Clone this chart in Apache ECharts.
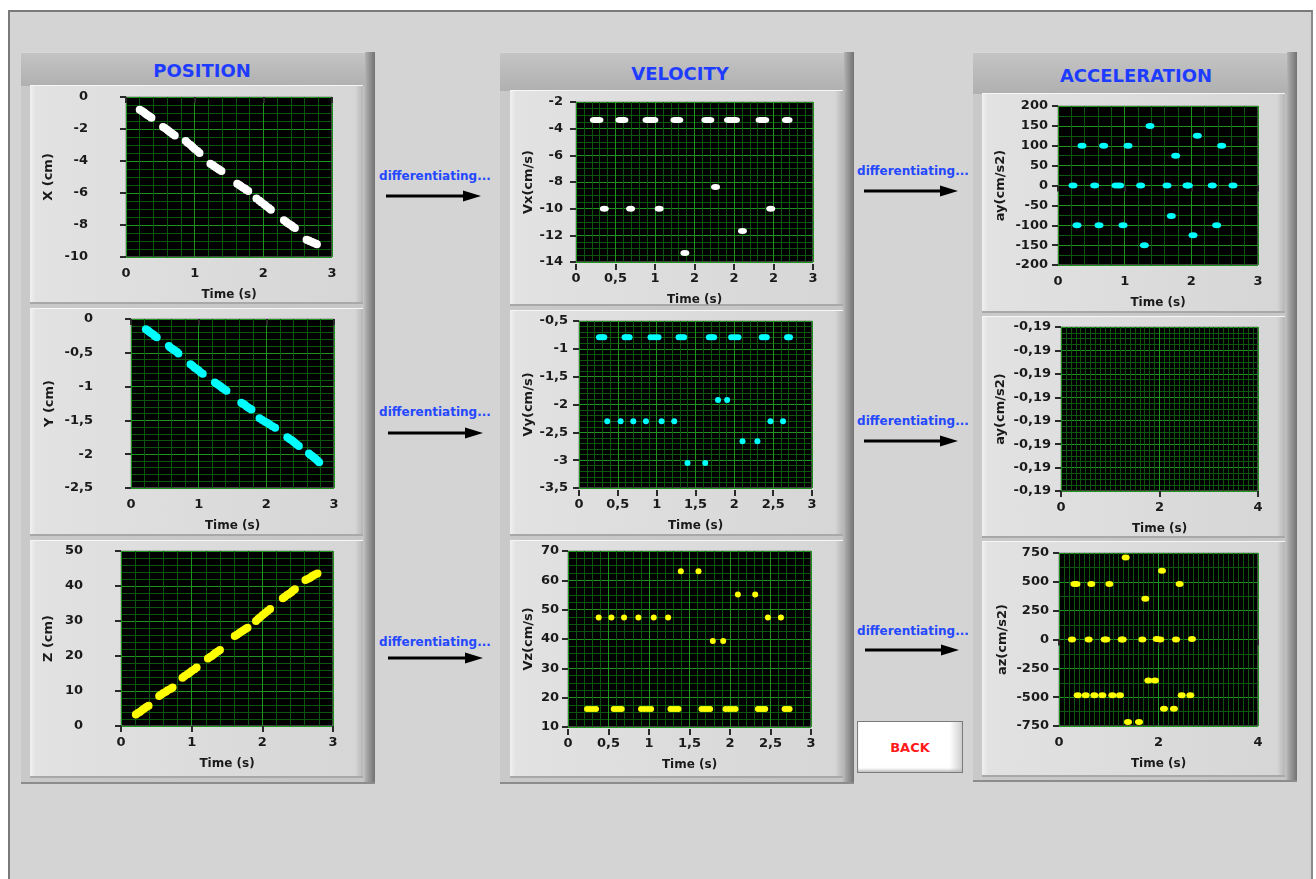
<!DOCTYPE html>
<html><head><meta charset="utf-8">
<script src="https://cdn.jsdelivr.net/npm/echarts@6/dist/echarts.min.js"></script>
<style>
html,body{margin:0;padding:0;background:#fff;width:1316px;height:879px;overflow:hidden;font-family:"DejaVu Sans",Verdana,sans-serif;}
#panel{position:absolute;left:8px;top:10px;width:1301px;height:880px;background:#d4d4d4;border-left:2px solid #7a7a7a;border-top:2px solid #7a7a7a;border-right:2px solid #8a8a8a;}
.group{position:absolute;background:linear-gradient(to right,#c9c9c9 0,#c6c6c6 calc(100% - 12px),#a4a4a4 calc(100% - 8px),#727272 100%);border-bottom:2px solid #8c8c8c;}
.hdr{position:absolute;left:0;top:0;right:10px;background:linear-gradient(#c4c4c4,#b0b0b0);border-top:1px solid #d8d8d8;}
.ttl{position:absolute;transform:translate(-50%,-50%);color:#1e3cff;font-weight:bold;font-size:18px;white-space:nowrap;}
.card{position:absolute;background:linear-gradient(to right,#f0f0f0 0,#e2e2e2 6px,#dcdcdc 50%,#d6d6d6 calc(100% - 8px),#b6b6b6 100%);border-top:1px solid #f6f6f6;border-bottom:2px solid #a8a8a8;box-sizing:border-box;}
.diff{position:absolute;transform:translate(-50%,-50%);color:#2448ff;font-weight:bold;font-size:12px;white-space:nowrap;}
#back{position:absolute;left:857px;top:721px;width:106px;height:52px;box-sizing:border-box;border:1px solid #7c7c7c;background:linear-gradient(to right,#ffffff 0,#ffffff 88%,#d0d0d0 100%);box-shadow:inset 0 -3px 3px -1px #bdbdbd;}
#back span{position:absolute;left:50%;top:50%;transform:translate(-50%,-50%);color:#ff1a1a;font-weight:bold;font-size:13px;}
#arrows{position:absolute;left:0;top:0;}
#chart{position:absolute;left:0;top:0;width:1316px;height:879px;z-index:5;}
</style></head>
<body>
<div id="panel"></div>

<div class="group" style="left:21px;top:52px;width:354px;height:730px">
  <div class="hdr" style="height:33px"></div>
  <div class="ttl" style="left:181px;top:18px">POSITION</div>
  <div class="card" style="left:9px;top:33px;width:333px;height:219px"></div>
  <div class="card" style="left:9px;top:256px;width:333px;height:228px"></div>
  <div class="card" style="left:9px;top:488px;width:333px;height:238px"></div>
</div>
<div class="group" style="left:500px;top:52px;width:354px;height:730px">
  <div class="hdr" style="height:38px"></div>
  <div class="ttl" style="left:180px;top:21px">VELOCITY</div>
  <div class="card" style="left:10px;top:38px;width:333px;height:216px"></div>
  <div class="card" style="left:10px;top:258px;width:333px;height:226px"></div>
  <div class="card" style="left:10px;top:488px;width:333px;height:238px"></div>
</div>
<div class="group" style="left:973px;top:52px;width:324px;height:728px">
  <div class="hdr" style="height:41px"></div>
  <div class="ttl" style="left:163px;top:23px">ACCELERATION</div>
  <div class="card" style="left:9px;top:41px;width:303px;height:220px"></div>
  <div class="card" style="left:9px;top:264px;width:303px;height:222px"></div>
  <div class="card" style="left:9px;top:489px;width:303px;height:236px"></div>
</div>

<div class="diff" style="left:435px;top:176px">differentiating...</div>
<div class="diff" style="left:435px;top:412px">differentiating...</div>
<div class="diff" style="left:435px;top:642px">differentiating...</div>
<div class="diff" style="left:913px;top:171px">differentiating...</div>
<div class="diff" style="left:913px;top:421px">differentiating...</div>
<div class="diff" style="left:913px;top:631px">differentiating...</div>

<svg id="arrows" width="1316" height="879">
  <g stroke="#000" stroke-width="3">
    <line x1="386" y1="196" x2="466" y2="196"/>
    <line x1="388" y1="433" x2="468" y2="433"/>
    <line x1="388" y1="658" x2="468" y2="658"/>
    <line x1="864" y1="191" x2="943" y2="191"/>
    <line x1="864" y1="441" x2="943" y2="441"/>
    <line x1="865" y1="650" x2="944" y2="650"/>
  </g>
  <g fill="#000">
    <polygon points="463,190.5 481,196 463,201.5"/>
    <polygon points="465,427.5 483,433 465,438.5"/>
    <polygon points="465,652.5 483,658 465,663.5"/>
    <polygon points="940,185.5 958,191 940,196.5"/>
    <polygon points="940,435.5 958,441 940,446.5"/>
    <polygon points="941,644.5 959,650 941,655.5"/>
  </g>
</svg>

<div id="back"><span>BACK</span></div>

<div id="chart"></div>
<script>
// ---------- DATA ----------
const posX = [
  [0.20,-0.79],[0.23,-0.87],[0.26,-0.95],[0.285,-1.04],[0.31,-1.12],[0.34,-1.20],[0.37,-1.29],
  [0.54,-1.87],[0.57,-1.96],[0.60,-2.05],[0.625,-2.14],[0.65,-2.22],[0.68,-2.31],[0.71,-2.40],
  [0.87,-2.75],[0.90,-2.87],[0.94,-3.00],[0.97,-3.12],[1.00,-3.25],[1.04,-3.37],[1.07,-3.50],
  [1.23,-4.17],[1.26,-4.25],[1.28,-4.32],[1.31,-4.40],[1.34,-4.48],[1.36,-4.55],[1.39,-4.63],
  [1.62,-5.42],[1.65,-5.50],[1.67,-5.57],[1.70,-5.65],[1.73,-5.72],[1.75,-5.80],[1.78,-5.87],
  [1.90,-6.35],[1.94,-6.47],[1.97,-6.58],[2.01,-6.70],[2.04,-6.81],[2.08,-6.93],[2.11,-7.04],
  [2.30,-7.71],[2.33,-7.79],[2.35,-7.87],[2.38,-7.95],[2.41,-8.03],[2.43,-8.11],[2.46,-8.19],
  [2.63,-8.92],[2.66,-8.97],[2.68,-9.02],[2.71,-9.07],[2.73,-9.11],[2.76,-9.16],[2.78,-9.21]
];
const posY = [
  [0.22,-0.15],[0.25,-0.17],[0.27,-0.19],[0.30,-0.21],[0.33,-0.23],[0.35,-0.25],[0.38,-0.27],
  [0.56,-0.40],[0.58,-0.42],[0.61,-0.44],[0.63,-0.455],[0.65,-0.47],[0.68,-0.49],[0.70,-0.51],
  [0.88,-0.67],[0.91,-0.69],[0.94,-0.72],[0.97,-0.74],[1.00,-0.76],[1.03,-0.79],[1.06,-0.81],
  [1.24,-0.94],[1.27,-0.96],[1.30,-0.98],[1.325,-1.00],[1.35,-1.02],[1.38,-1.04],[1.41,-1.06],
  [1.63,-1.24],[1.655,-1.255],[1.68,-1.27],[1.705,-1.29],[1.73,-1.31],[1.755,-1.325],[1.78,-1.34],
  [1.90,-1.47],[1.94,-1.495],[1.98,-1.52],[2.015,-1.54],[2.05,-1.56],[2.09,-1.585],[2.13,-1.61],
  [2.31,-1.75],[2.34,-1.77],[2.37,-1.79],[2.395,-1.81],[2.42,-1.83],[2.45,-1.855],[2.48,-1.88],
  [2.63,-1.99],[2.655,-2.01],[2.68,-2.03],[2.705,-2.05],[2.73,-2.07],[2.755,-2.095],[2.78,-2.12]
];
const posZ = [
  [0.21,3.3],[0.24,3.7],[0.27,4.1],[0.30,4.55],[0.33,5.0],[0.36,5.4],[0.39,5.8],
  [0.54,8.6],[0.57,9.0],[0.60,9.4],[0.635,9.8],[0.66,10.2],[0.70,10.6],[0.73,11.0],
  [0.87,13.8],[0.90,14.3],[0.94,14.8],[0.97,15.25],[1.00,15.7],[1.04,16.2],[1.07,16.7],
  [1.23,19.3],[1.26,19.7],[1.29,20.1],[1.315,20.5],[1.34,20.9],[1.37,21.3],[1.40,21.7],
  [1.61,25.7],[1.64,26.1],[1.67,26.5],[1.70,26.9],[1.73,27.3],[1.76,27.7],[1.79,28.1],
  [1.91,30.0],[1.94,30.55],[1.97,31.1],[2.005,31.7],[2.04,32.3],[2.075,32.85],[2.11,33.4],
  [2.29,36.5],[2.32,36.95],[2.35,37.4],[2.38,37.8],[2.41,38.2],[2.43,38.65],[2.46,39.1],
  [2.61,41.7],[2.64,42.0],[2.67,42.3],[2.695,42.65],[2.72,43.0],[2.75,43.3],[2.78,43.6]
];
const velX = [
  [0.232,-3.35],[0.262,-3.35],[0.291,-3.35],
  [0.556,-3.35],[0.581,-3.35],[0.607,-3.35],
  [0.898,-3.35],[0.928,-3.35],[0.957,-3.35],[0.986,-3.35],
  [1.252,-3.35],[1.277,-3.35],[1.302,-3.35],
  [1.643,-3.35],[1.668,-3.35],[1.694,-3.35],
  [1.930,-3.35],[1.960,-3.35],[1.990,-3.35],[2.019,-3.35],
  [2.330,-3.35],[2.360,-3.35],[2.389,-3.35],
  [2.663,-3.35],[2.684,-3.35],
  [0.358,-10],[0.691,-10],[1.053,-10],[1.378,-13.33],
  [1.766,-8.38],[2.107,-11.68],[2.465,-10]
];
const velY = [
  [0.257,-0.79],[0.280,-0.79],[0.303,-0.79],[0.326,-0.79],
  [0.587,-0.79],[0.608,-0.79],[0.630,-0.79],[0.651,-0.79],
  [0.921,-0.79],[0.955,-0.79],[0.990,-0.79],[1.024,-0.79],
  [1.282,-0.79],[1.306,-0.79],[1.330,-0.79],[1.354,-0.79],
  [1.672,-0.79],[1.695,-0.79],[1.717,-0.79],[1.740,-0.79],
  [1.959,-0.79],[1.990,-0.79],[2.022,-0.79],[2.053,-0.79],
  [2.353,-0.79],[2.375,-0.79],[2.396,-0.79],[2.417,-0.79],
  [2.679,-0.79],[2.698,-0.79],[2.717,-0.79],
  [0.364,-2.3],[0.536,-2.3],[0.699,-2.3],[0.862,-2.3],[1.063,-2.3],[1.226,-2.3],
  [1.397,-3.05],[1.625,-3.05],[1.790,-1.92],[1.907,-1.92],
  [2.105,-2.66],[2.297,-2.66],[2.465,-2.3],[2.627,-2.3]
];
const velZ = [
  [0.235,16.1],[0.272,16.1],[0.309,16.1],[0.346,16.1],
  [0.564,16.1],[0.597,16.1],[0.630,16.1],[0.663,16.1],
  [0.902,16.1],[0.943,16.1],[0.985,16.1],[1.026,16.1],
  [1.265,16.1],[1.298,16.1],[1.331,16.1],[1.364,16.1],
  [1.648,16.1],[1.684,16.1],[1.719,16.1],[1.755,16.1],
  [1.945,16.1],[1.986,16.1],[2.027,16.1],[2.068,16.1],
  [2.344,16.1],[2.374,16.1],[2.405,16.1],[2.435,16.1],
  [2.674,16.1],[2.705,16.1],[2.736,16.1],
  [0.379,47.3],[0.536,47.3],[0.692,47.3],[0.869,47.3],[1.059,47.3],[1.236,47.3],
  [1.393,63.1],[1.611,63.1],[1.788,39.3],[1.916,39.3],
  [2.097,55.2],[2.311,55.2],[2.468,47.3],[2.629,47.3]
];
const accY = [
  [0.225,0],[0.285,-100],[0.36,100],[0.55,0],[0.615,-100],[0.685,100],
  [0.87,0],[0.925,0],[0.975,-100],[1.05,100],[1.24,0],[1.295,-150],[1.38,150],
  [1.635,0],[1.70,-77],[1.765,75],[1.935,0],[1.955,0],[2.025,-125],[2.09,125],
  [2.315,0],[2.38,-100],[2.455,100],[2.625,0]
];
const accY2 = [];
const accZ = [
  [0.261,0],[0.596,0],[0.918,0],[0.951,0],[1.26,0],[1.28,0],[1.675,0],
  [1.963,5],[2.037,0],[2.352,0],[2.673,5],
  [0.31,481],[0.35,481],[0.65,481],[1.012,481],[2.425,481],
  [1.34,712],[2.07,596],[1.735,353],
  [1.796,-356],[1.93,-356],
  [0.375,-484],[0.536,-484],[0.71,-484],[0.871,-484],[1.072,-484],[1.226,-484],[2.466,-484],[2.64,-484],
  [2.11,-600],[2.31,-600],
  [1.387,-715],[1.608,-715]
];

// tick labels (bottom-to-top / left-to-right)
const tT3 = ['0','1','2','3'];
const tT05 = ['0','0,5','1','1,5','2','2,5','3'];
const tVxT = ['0','0,5','1','2','2','2','3'];
const tT4 = ['0','2','4'];
const tX = ['-10','-8','-6','-4','-2','0'];
const tY = ['-2,5','-2','-1,5','-1','-0,5','0'];
const tZ = ['0','10','20','30','40','50'];
const tVx = ['-14','-12','-10','-8','-6','-4','-2'];
const tVy = ['-3,5','-3','-2,5','-2','-1,5','-1','-0,5'];
const tVz = ['10','20','30','40','50','60','70'];
const tAy = ['-200','-150','-100','-50','0','50','100','150','200'];
const tAy2 = ['-0,19','-0,19','-0,19','-0,19','-0,19','-0,19','-0,19','-0,19'];
const tAz = ['-750','-500','-250','0','250','500','750'];

const yNames = ['X (cm)','Y (cm)','Z (cm)','Vx(cm/s)','Vy(cm/s)','Vz(cm/s)','ay(cm/s2)','ay(cm/s2)','az(cm/s2)'];
const xName = 'Time (s)';

// ---------- LAYOUT ----------
const FONT = '"DejaVu Sans", Verdana, sans-serif';
const ELL = 'path://M0,5A5,5 0 1,1 10,5A5,5 0 1,1 0,5Z';
const layout = [
 {g:[126,97,206,160], xr:[0,3,1,5], xt:tT3, yr:[-10,0,2,4], yt:tX, yo:30, yg:41, d:posX, c:'#ffffff', s:8},
 {g:[131,319,203,169], xr:[0,3,1,5], xt:tT3, yr:[-2.5,0,0.5,5], yt:tY, yo:30, yg:45, d:posY, c:'#00ffff', s:8},
 {g:[121,551,212,175], xr:[0,3,1,5], xt:tT3, yr:[0,50,10,5], yt:tZ, yo:30, yg:36, d:posZ, c:'#ffff00', s:8},
 {g:[576,102,237,160], xr:[0,3,0.5,5], xt:tVxT, yr:[-14,-2,2,4], yt:tVx, yo:5, yg:36, d:velX, c:'#ffffff', s:[9,6], ell:true},
 {g:[579,321,233,167], xr:[0,3,0.5,5], xt:tT05, yr:[-3.5,-0.5,0.5,5], yt:tVy, yo:3, yg:41, d:velY, c:'#00ffff', s:6},
 {g:[568,551,243,176], xr:[0,3,0.5,5], xt:tT05, yr:[10,70,10,4], yt:tVz, yo:1, yg:32, d:velZ, c:'#ffff00', s:6},
 {g:[1058,106,200,159], xr:[0,3,1,5], xt:tT3, yr:[-200,200,50,2], yt:tAy, yo:2, yg:49, d:accY, c:'#00ffff', s:[9,6], ell:true},
 {g:[1061,327,197,164], xr:[0,4,2,20], xt:tT4, yr:[0,7,1,4], yt:tAy2, yo:2, yg:52, d:accY2, c:'#00ffff', s:6},
 {g:[1059,553,199,173], xr:[0,4,2,20], xt:tT4, yr:[-750,750,250,2], yt:tAz, yo:2, yg:48, d:accZ, c:'#ffff00', s:[8,6], ell:true}
];

const MAJOR = '#1e931e', MINOR = '#0d560d', TXT = '#1a1a1a', TICK = '#2a2a2a';
const lbl = {color:TXT, fontWeight:'bold', fontSize:13, fontFamily:FONT};
function fmt(ticks, min, step){ return v => { const i = Math.round((v-min)/step); return ticks[i] !== undefined ? ticks[i] : ''; }; }
const hiddenLine = {show:true, lineStyle:{color:'rgba(0,0,0,0)', width:0}};

const grid = [], xAxis = [], yAxis = [], series = [];
layout.forEach((p, i) => {
  grid.push({left:p.g[0], top:p.g[1], width:p.g[2], height:p.g[3], show:true,
    backgroundColor:'#000', borderColor:'#8a8a8a', borderWidth:1, containLabel:false, outerBoundsMode:'none'});
  xAxis.push({gridIndex:i, type:'value', min:p.xr[0], max:p.xr[1], interval:p.xr[2], position:'bottom', offset:2,
    axisLine:hiddenLine, axisTick:{show:true, inside:false, length:6, lineStyle:{color:TICK, width:2}},
    axisLabel:Object.assign({margin:8, formatter:fmt(p.xt, p.xr[0], p.xr[2])}, lbl),
    splitLine:{show:true, lineStyle:{color:MAJOR, width:1}},
    minorTick:{show:false, splitNumber:p.xr[3]}, minorSplitLine:{show:true, lineStyle:{color:MINOR, width:1}},
    name:xName, nameLocation:'middle', nameGap:30,
    nameTextStyle:{color:TXT, fontWeight:'bold', fontSize:12, fontFamily:FONT}});
  yAxis.push({gridIndex:i, type:'value', min:p.yr[0], max:p.yr[1], interval:p.yr[2], position:'left', offset:p.yo,
    axisLine:hiddenLine, axisTick:{show:true, inside:false, length:6, lineStyle:{color:TICK, width:2}},
    axisLabel:Object.assign({margin:8, formatter:fmt(p.yt, p.yr[0], p.yr[2])}, lbl),
    splitLine:{show:true, lineStyle:{color:MAJOR, width:1}},
    minorTick:{show:false, splitNumber:p.yr[3]}, minorSplitLine:{show:true, lineStyle:{color:MINOR, width:1}},
    name:yNames[i], nameLocation:'middle', nameGap:p.yg,
    nameTextStyle:{color:TXT, fontWeight:'bold', fontSize:13, fontFamily:FONT}});
  series.push({type:'scatter', xAxisIndex:i, yAxisIndex:i, data:p.d, symbol:p.ell ? ELL : 'circle',
    symbolSize:p.s, itemStyle:{color:p.c, opacity:1}, silent:true, clip:true});
});

const chart = echarts.init(document.getElementById('chart'), null, {renderer:'canvas', width:1316, height:879});
chart.setOption({backgroundColor:'transparent', animation:false, grid, xAxis, yAxis, series});
</script>
</body></html>
